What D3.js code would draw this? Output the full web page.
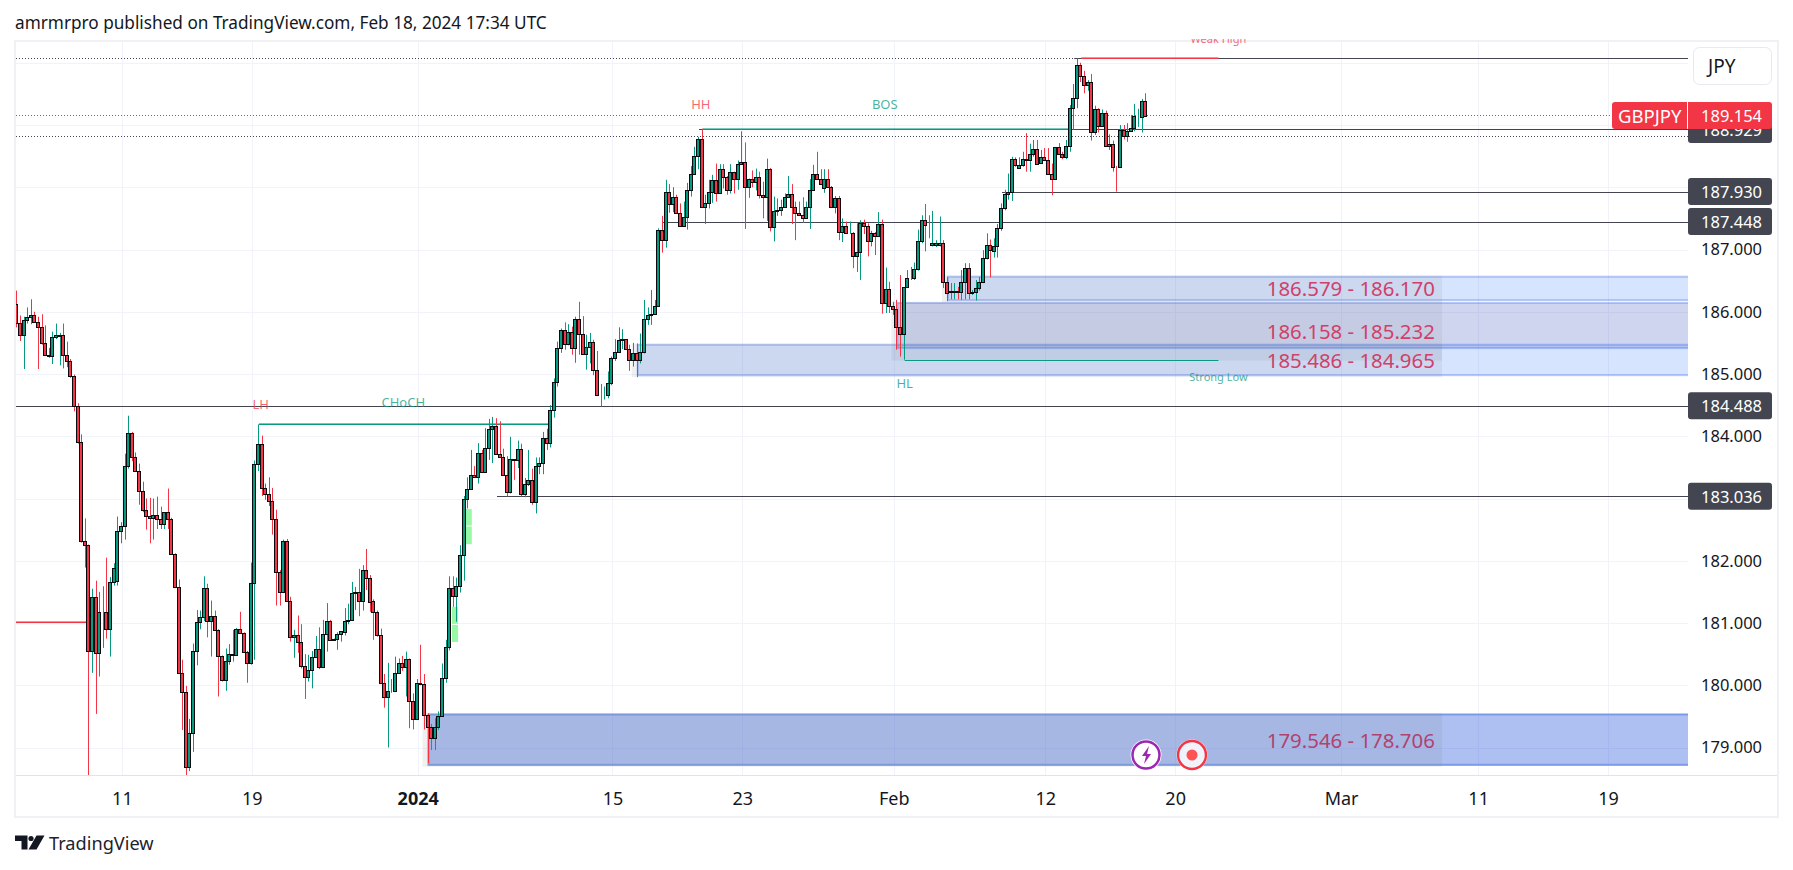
<!DOCTYPE html>
<html>
<head>
<meta charset="utf-8">
<title>GBPJPY</title>
<script src="https://cdn.jsdelivr.net/npm/d3@7"></script>
<style>
  body { margin: 0; background: #fff; }
  svg { display: block; }
  text { font-family: "Noto Sans", sans-serif; }
</style>
</head>
<body>
<div id="chart"></div>
<script>
// candles, oldest first (4h bars)
const opens = [
  186.13,185.82,185.63,185.87,185.92,185.95,185.84,185.76,185.50,185.31,
  185.29,185.60,185.61,185.63,185.31,185.21,184.96,184.49,183.91,182.32,
  182.25,180.55,181.42,180.52,181.17,181.18,180.90,181.66,181.67,182.48,
  182.56,183.52,184.05,183.67,183.44,183.12,182.82,182.72,182.68,182.73,
  182.67,182.59,182.78,182.67,182.11,181.58,180.20,179.89,178.68,179.23,
  180.55,181.02,181.10,181.56,181.03,181.11,180.89,180.47,180.09,180.39,
  180.50,180.49,180.90,180.84,180.54,180.35,181.65,183.56,183.88,183.17,
  183.07,182.96,182.67,181.82,181.49,182.32,181.35,180.78,180.80,180.69,
  180.31,180.14,180.24,180.46,180.58,180.29,180.82,181.04,180.72,180.75,
  180.83,180.86,181.03,181.05,181.48,181.50,181.36,181.85,181.73,181.35,
  181.17,180.80,180.04,179.81,179.90,179.91,180.19,180.35,180.29,180.42,
  179.74,179.45,180.03,180.02,179.52,179.33,179.16,179.33,179.50,180.11,
  180.62,181.57,181.44,181.60,182.09,182.99,183.16,183.38,183.34,183.73,
  183.42,183.81,184.11,184.16,183.71,183.66,183.38,183.10,183.63,183.62,
  183.79,183.08,183.23,183.29,182.94,183.53,183.57,183.97,183.89,184.42,
  184.87,185.41,185.70,185.48,185.68,185.41,185.88,185.65,185.32,185.44,
  185.52,185.07,184.67,184.66,184.67,184.85,185.25,185.36,185.55,185.56,
  185.40,185.22,185.33,185.22,185.36,185.89,185.94,185.97,186.09,187.31,
  187.15,187.92,187.73,187.85,187.59,187.38,187.53,187.96,188.22,188.51,
  188.77,187.69,187.74,187.93,188.12,187.90,188.30,188.16,187.95,188.24,
  188.14,188.38,188.40,188.00,188.14,188.08,188.16,187.87,187.84,188.30,
  187.36,187.62,187.63,187.69,187.85,187.89,187.69,187.59,187.56,187.50,
  187.69,187.96,188.22,188.14,187.99,188.13,188.01,187.68,187.82,187.28,
  187.38,187.26,187.27,186.89,186.96,187.42,187.38,187.14,187.26,187.21,
  187.41,186.14,186.36,186.10,186.04,185.76,185.65,186.39,186.54,186.54,
  186.68,187.13,187.48,187.40,187.07,187.07,187.07,187.11,186.48,186.32,
  186.31,186.34,186.31,186.47,186.71,186.30,186.31,186.38,186.48,186.86,
  187.08,186.98,187.05,187.34,187.66,187.89,187.93,188.46,188.31,188.36,
  188.45,188.43,188.53,188.61,188.39,188.49,188.43,188.21,188.13,188.64,
  188.53,188.49,188.66,189.27,189.43,189.97,189.79,189.64,189.69,188.88,
  189.25,188.99,189.19,188.67,188.69,188.33,188.32,188.92,188.83,188.90,
  188.95,189.14,189.13,189.39
];
const highs = [
  186.34,185.94,185.92,186.07,186.20,186.00,185.92,185.96,185.78,185.42,
  185.68,185.81,185.66,185.81,185.52,185.24,184.99,184.53,184.03,182.68,
  182.26,181.55,181.68,181.50,181.59,182.05,181.74,181.96,182.71,182.62,
  183.72,184.33,184.07,183.74,183.56,183.27,183.00,183.01,183.00,183.03,
  182.87,182.78,183.16,182.69,182.12,181.70,180.41,179.99,179.46,180.67,
  181.21,181.20,181.75,181.63,181.36,181.20,180.90,180.48,180.59,180.66,
  180.89,180.92,181.18,180.85,180.55,181.97,183.61,184.19,184.01,183.24,
  183.34,183.17,182.82,181.85,182.34,182.35,181.42,180.89,181.12,180.98,
  180.50,180.49,180.55,180.79,180.93,181.05,181.32,181.05,180.75,180.85,
  180.87,181.24,181.31,181.66,181.58,181.87,181.93,182.19,181.77,181.38,
  181.20,180.91,180.18,180.36,180.10,180.46,180.43,180.47,180.54,180.43,
  179.87,180.10,180.65,180.18,179.55,179.38,179.47,179.58,180.35,180.73,
  181.75,181.75,181.73,182.25,183.04,183.34,183.78,183.52,183.89,183.78,
  184.13,184.28,184.31,184.29,184.24,183.80,183.68,183.99,183.63,183.93,
  183.88,183.33,183.78,183.48,183.66,183.66,184.07,184.12,184.50,184.93,
  185.52,185.73,185.83,185.80,185.76,185.92,186.16,185.93,185.63,185.66,
  185.55,185.37,184.84,184.80,185.04,185.28,185.56,185.75,185.72,185.56,
  185.47,185.50,185.49,185.65,186.19,186.07,186.35,186.19,187.34,187.54,
  188.12,188.05,188.00,187.88,187.74,187.77,188.07,188.34,188.65,188.81,
  188.94,187.88,188.12,188.20,188.38,188.37,188.37,188.18,188.37,188.25,
  188.43,188.90,188.72,188.14,188.27,188.30,188.25,188.09,188.46,188.31,
  187.85,187.82,187.80,187.90,188.18,188.05,187.77,187.77,187.84,187.77,
  188.13,188.36,188.57,188.29,188.29,188.29,188.02,187.86,187.86,187.50,
  187.45,187.45,187.28,187.42,187.47,187.48,187.42,187.30,187.28,187.60,
  187.48,186.71,186.48,186.16,186.19,186.59,186.39,186.67,186.72,186.79,
  187.32,187.55,187.73,187.55,187.62,187.15,187.53,187.15,186.56,186.46,
  186.46,186.40,186.67,186.78,186.78,186.35,186.51,186.56,186.99,187.26,
  187.16,187.18,187.41,187.74,187.96,188.22,188.49,188.48,188.48,188.57,
  188.87,188.70,188.76,188.76,188.60,188.63,188.63,188.38,188.64,188.71,
  188.57,188.76,189.32,189.66,190.07,190.00,189.87,189.72,189.82,189.31,
  189.27,189.25,189.23,188.85,188.75,188.34,189.00,189.00,189.03,189.16,
  189.34,189.26,189.42,189.51
];
const lows = [
  185.75,185.53,185.08,185.81,185.80,185.82,185.08,185.47,185.29,185.26,
  185.16,185.56,185.14,185.09,185.11,184.94,184.40,183.88,182.29,181.89,
  178.55,180.20,179.54,180.14,180.60,180.75,180.46,181.60,181.60,182.28,
  182.34,183.48,183.60,183.43,182.90,182.78,182.50,182.28,182.34,182.51,
  182.51,182.51,182.51,182.10,181.56,180.18,179.28,178.55,178.62,178.93,
  180.32,180.90,181.03,180.77,180.46,180.88,179.82,180.06,179.91,180.33,
  180.38,180.49,180.84,180.53,180.04,180.33,180.41,183.44,183.04,182.98,
  182.88,182.42,181.28,181.28,181.48,181.35,180.70,180.44,180.52,180.27,
  179.78,180.06,179.95,180.46,180.26,180.29,180.54,180.72,180.71,180.57,
  180.70,180.80,180.98,181.04,181.21,181.11,181.20,181.53,181.18,180.73,
  180.78,180.02,179.64,179.00,179.88,179.90,180.18,180.23,179.82,179.31,
  179.29,179.44,180.00,179.29,178.75,178.96,178.96,179.28,179.49,180.04,
  180.56,181.26,181.02,181.49,181.68,182.84,183.15,183.33,183.24,183.42,
  183.41,183.62,183.57,183.70,183.66,183.38,183.03,183.08,183.30,183.49,
  183.03,183.02,183.20,182.90,182.76,183.39,183.39,183.78,183.82,184.30,
  184.80,185.34,185.39,185.46,185.31,185.18,185.31,185.31,185.07,185.17,
  184.98,184.66,184.48,184.59,184.61,184.82,185.21,185.36,185.40,185.40,
  185.05,185.12,184.95,185.17,185.33,185.79,185.79,185.96,186.08,186.95,
  187.03,187.59,187.60,187.59,187.37,187.37,187.32,187.85,188.20,188.29,
  187.69,187.41,187.66,187.75,187.77,187.89,187.98,187.88,187.90,187.90,
  187.96,188.36,187.33,187.83,188.00,187.95,187.82,187.50,187.46,187.29,
  187.13,187.54,187.54,187.68,187.84,187.41,187.15,187.54,187.43,187.49,
  187.33,187.95,188.14,188.05,187.91,188.00,187.68,187.58,187.15,187.12,
  187.25,187.25,186.70,186.64,186.51,187.25,186.89,187.05,186.91,187.20,
  185.97,185.98,185.98,185.95,185.39,185.28,185.23,186.38,186.51,186.51,
  186.66,187.10,186.97,187.18,187.05,187.04,187.05,186.38,186.17,186.20,
  186.20,186.20,186.19,186.20,186.20,186.27,186.18,186.34,186.46,186.84,
  186.55,186.87,186.87,187.30,187.63,187.80,187.78,188.33,188.30,188.33,
  188.25,188.25,188.49,188.38,188.38,188.42,188.20,187.87,188.12,188.52,
  188.45,188.45,188.57,188.92,189.27,189.69,189.51,189.55,188.75,188.84,
  188.88,188.97,188.67,188.60,188.25,187.93,188.31,188.77,188.73,188.89,
  188.90,188.97,188.88,189.15
];
const closes = [
  185.82,185.63,185.87,185.92,185.95,185.84,185.76,185.50,185.30,185.29,
  185.60,185.62,185.63,185.31,185.21,184.96,184.49,183.91,182.32,182.25,
  180.55,181.42,180.52,181.18,181.18,180.90,181.66,181.89,182.48,182.56,
  183.52,184.05,183.67,183.44,183.12,182.82,182.72,182.68,182.73,182.67,
  182.59,182.78,182.67,182.11,181.58,180.20,179.89,178.68,179.23,180.55,
  181.02,181.10,181.56,181.03,181.11,180.89,180.47,180.09,180.39,180.50,
  180.49,180.90,180.84,180.54,180.35,181.65,183.56,183.88,183.17,183.07,
  182.96,182.67,181.82,181.49,182.32,181.35,180.78,180.80,180.69,180.31,
  180.14,180.24,180.46,180.58,180.29,180.82,181.04,180.72,180.75,180.83,
  180.87,181.03,181.05,181.48,181.50,181.36,181.85,181.73,181.34,181.17,
  180.80,180.04,179.81,179.91,179.91,180.19,180.35,180.29,180.42,179.74,
  179.45,180.03,180.02,179.52,179.33,179.16,179.33,179.50,180.11,180.62,
  181.57,181.44,181.60,182.09,182.99,183.16,183.38,183.34,183.73,183.42,
  183.81,184.11,184.16,183.71,183.66,183.38,183.10,183.63,183.62,183.79,
  183.08,183.23,183.29,182.94,183.53,183.57,183.97,183.89,184.42,184.87,
  185.41,185.70,185.48,185.68,185.41,185.88,185.65,185.32,185.44,185.52,
  185.07,184.67,184.66,184.67,184.85,185.25,185.36,185.55,185.56,185.40,
  185.22,185.33,185.22,185.36,185.89,185.94,185.97,186.09,187.31,187.15,
  187.92,187.73,187.85,187.59,187.38,187.53,187.96,188.22,188.51,188.77,
  187.69,187.74,187.93,188.12,187.90,188.30,188.16,187.95,188.24,188.14,
  188.38,188.40,188.00,188.14,188.08,188.16,187.87,187.84,188.30,187.36,
  187.62,187.63,187.69,187.85,187.89,187.69,187.59,187.56,187.50,187.69,
  187.96,188.22,188.14,188.05,188.13,188.01,187.68,187.82,187.28,187.38,
  187.26,187.27,186.89,186.96,187.42,187.38,187.14,187.26,187.21,187.41,
  186.14,186.36,186.10,186.04,185.76,185.65,186.39,186.54,186.55,186.68,
  187.13,187.48,187.40,187.39,187.11,187.11,187.11,186.48,186.30,186.33,
  186.34,186.31,186.47,186.71,186.30,186.31,186.38,186.48,186.86,187.08,
  186.99,187.05,187.34,187.66,187.89,187.93,188.46,188.36,188.36,188.45,
  188.43,188.53,188.61,188.38,188.49,188.43,188.21,188.13,188.64,188.53,
  188.49,188.66,189.27,189.43,189.97,189.79,189.64,189.69,188.88,189.25,
  188.99,189.19,188.67,188.69,188.33,188.32,188.92,188.83,188.90,188.95,
  189.14,189.15,189.39,189.15
];

const priceTicks = [179, 180, 181, 182, 183, 184, 185, 186, 187];
const gridPrices = [179, 180, 181, 182, 183, 184, 185, 186, 187, 188, 189, 190];
const timeTicks = [29, 65, 111, 165, 201, 243, 285, 321, 367, 405, 441];
const timeLabels = ["11", "19", "2024", "15", "23", "Feb", "12", "20", "Mar", "11", "19"];

// horizontal levels with a price tag on the axis
const levelPrices = [188.929, 187.930, 187.448, 184.488, 183.036];
const levelStarts = [189, 273, 179, -1, 133];

// dotted lines across the pane
const dottedPrices = [190.07, 188.83];
const lastPrice = 189.154;

// supply / demand zones; the second box stops above its label range
const zoneTops = [186.579, 186.158, 185.486, 179.546];
const zoneBottoms = [186.170, 185.232, 184.965, 178.706];
const boxBottoms = [186.170, 185.400, 184.965, 178.706];
const zoneStarts = [258, 244, 172, 114];
const zoneLabels = ["186.579 - 186.170", "186.158 - 185.232", "185.486 - 184.965", "179.546 - 178.706"];

// market structure lines
const structurePrices = [184.19, 188.94, 185.23, 190.08, 181.02];
const structureStarts = [67, 190, 246, 295, -1];
const structureEnds = [148, 292, 333, 333, 20];
const structureColors = ["#089981", "#089981", "#089981", "#f23645", "#f23645"];
const structureGlow = [true, true, false, true, true];

// small fair value gap boxes
const gapStarts = [124.4, 124.4, 120.5, 120.5];
const gapEnds = [126, 126, 122.2, 122.2];
const gapTops = [182.83, 182.55, 181.26, 180.97];
const gapBottoms = [182.55, 182.25, 180.97, 180.68];

const notes = ["LH", "CHoCH", "HH", "BOS", "HL", "Strong Low", "Weak High"];
const noteIndex = [67.5, 107, 189.5, 240.5, 246, 333, 333];
const notePrices = [184.50, 184.52, 189.31, 189.31, 184.83, 184.94, 190.365];
const noteSizes = [13, 13, 13, 13, 13, 11, 11];
const noteColors = ["#f23645", "#089981", "#f23645", "#089981", "#089981", "#089981", "#f23645"];

const upColor = "#089981";
const downColor = "#f23645";
const levelColor = "#434651";
const paneLeft = 16, paneRight = 1688, paneTop = 42, paneBottom = 775;
const axisRight = 1772;

const svg = d3.select("#chart")
  .append("svg")
  .attr("width", 1793)
  .attr("height", 870);

const xScale = d3.scaleLinear().domain([0, 441]).range([17.3, 1608]);
const yScale = d3.scaleLinear().domain([187, 179]).range([249.5, 747.5]);

svg.append("clipPath").attr("id", "pane")
  .append("rect")
  .attr("x", paneLeft).attr("y", paneTop - 3)
  .attr("width", paneRight - paneLeft).attr("height", paneBottom - paneTop + 3);

svg.append("clipPath").attr("id", "paneStrict")
  .append("rect")
  .attr("x", paneLeft).attr("y", paneTop)
  .attr("width", paneRight - paneLeft).attr("height", paneBottom - paneTop);

// header and frame
svg.append("text")
  .text("amrmrpro published on TradingView.com, Feb 18, 2024 17:34 UTC")
  .attr("x", 15).attr("y", 29)
  .style("font-size", "17.2px")
  .attr("fill", "#131722");

svg.append("rect")
  .attr("x", 15).attr("y", 41)
  .attr("width", 1763).attr("height", 776)
  .attr("fill", "none")
  .attr("stroke", "#f0f0f5")
  .attr("stroke-width", 2);

// grid
const grid = svg.append("g").attr("clip-path", "url(#paneStrict)");

grid.selectAll(".h")
  .data(gridPrices)
  .join("line")
  .attr("x1", paneLeft).attr("x2", paneRight)
  .attr("y1", d => Math.round(yScale(d)) + 0.5)
  .attr("y2", d => Math.round(yScale(d)) + 0.5)
  .attr("stroke", "#f0f3fa");

grid.selectAll(".v")
  .data(timeTicks)
  .join("line")
  .attr("x1", d => Math.round(xScale(d)) + 0.5)
  .attr("x2", d => Math.round(xScale(d)) + 0.5)
  .attr("y1", paneTop).attr("y2", paneBottom)
  .attr("stroke", "#f0f3fa");

// zones, borders kept inside each box so that neighbours do not merge
const zones = svg.append("g").attr("clip-path", "url(#paneStrict)");

zoneTops.forEach((top, i) => {
  const strong = i === 3;
  const mid = i === 1;
  zones.append("rect")
    .attr("x", xScale(zoneStarts[i]))
    .attr("y", yScale(top) + 1)
    .attr("width", paneRight + 10 - xScale(zoneStarts[i]))
    .attr("height", yScale(boxBottoms[i]) - yScale(top) - 2)
    .attr("fill", strong ? "rgba(41,88,220,0.38)" : mid ? "rgba(60,80,190,0.24)" : "rgba(41,110,250,0.19)")
    .attr("stroke", strong ? "#7b9be8" : "rgba(60,110,240,0.35)")
    .attr("stroke-width", 2);
  // grey box behind the range text
  zones.append("rect")
    .attr("x", xScale(zoneStarts[i]) - 6)
    .attr("y", yScale(top))
    .attr("width", xScale(395) - xScale(zoneStarts[i]) + 6)
    .attr("height", yScale(zoneBottoms[i]) - yScale(top) + 1)
    .attr("fill", "rgba(120,135,134,0.12)");
});

// fair value gaps
svg.append("g")
  .selectAll("rect")
  .data(gapStarts)
  .join("rect")
  .attr("x", d => xScale(d))
  .attr("y", (d, i) => yScale(gapTops[i]))
  .attr("width", (d, i) => xScale(gapEnds[i]) - xScale(d))
  .attr("height", (d, i) => yScale(gapBottoms[i]) - yScale(gapTops[i]) - 1)
  .attr("fill", "#97f8a6");

// dotted lines
const lines = svg.append("g").attr("clip-path", "url(#paneStrict)");

lines.selectAll(".dot")
  .data(dottedPrices)
  .join("line")
  .attr("x1", paneLeft).attr("x2", paneRight)
  .attr("y1", d => Math.round(yScale(d)) + 0.5)
  .attr("y2", d => Math.round(yScale(d)) + 0.5)
  .attr("stroke", levelColor)
  .attr("stroke-dasharray", "1 2");

lines.append("line")
  .attr("x1", paneLeft).attr("x2", 1612)
  .attr("y1", Math.round(yScale(lastPrice)) + 0.5)
  .attr("y2", Math.round(yScale(lastPrice)) + 0.5)
  .attr("stroke", downColor)
  .attr("stroke-dasharray", "1 2");

// solid levels
lines.selectAll(".level")
  .data(levelPrices)
  .join("line")
  .attr("x1", (d, i) => xScale(levelStarts[i]))
  .attr("x2", paneRight)
  .attr("y1", d => Math.round(yScale(d)) + 0.5)
  .attr("y2", d => Math.round(yScale(d)) + 0.5)
  .attr("stroke", levelColor);

// the line under the weak high
lines.append("line")
  .attr("x1", xScale(293)).attr("x2", paneRight)
  .attr("y1", Math.round(yScale(190.08)) + 0.5)
  .attr("y2", Math.round(yScale(190.08)) + 0.5)
  .attr("stroke", levelColor);

// structure lines
structurePrices.forEach((p, i) => {
  const yy = Math.round(yScale(p)) + 0.5;
  if (structureGlow[i]) {
    lines.append("line")
      .attr("x1", xScale(structureStarts[i])).attr("x2", xScale(structureEnds[i]))
      .attr("y1", yy - 1).attr("y2", yy - 1)
      .attr("stroke", structureColors[i])
      .attr("stroke-opacity", 0.55);
  }
  lines.append("line")
    .attr("x1", xScale(structureStarts[i])).attr("x2", xScale(structureEnds[i]))
    .attr("y1", yy).attr("y2", yy)
    .attr("stroke", structureColors[i]);
});

// candles
const candles = svg.append("g").attr("clip-path", "url(#paneStrict)");

const candle = candles.selectAll("g")
  .data(closes)
  .join("g");

candle.append("line")
  .attr("x1", (d, i) => Math.round(xScale(i)) - 0.5)
  .attr("x2", (d, i) => Math.round(xScale(i)) - 0.5)
  .attr("y1", (d, i) => yScale(highs[i]))
  .attr("y2", (d, i) => yScale(lows[i]))
  .attr("stroke", (d, i) => d >= opens[i] ? upColor : downColor);

candle.append("rect")
  .attr("x", (d, i) => Math.round(xScale(i)) - 2.5)
  .attr("y", (d, i) => Math.round(yScale(Math.max(d, opens[i]))) + 0.5)
  .attr("width", 3)
  .attr("height", (d, i) => Math.max(0, Math.round(yScale(Math.min(d, opens[i]))) - Math.round(yScale(Math.max(d, opens[i])))))
  .attr("fill", (d, i) => d >= opens[i] ? upColor : downColor)
  .attr("stroke", "#0b0b0f")
  .attr("shape-rendering", "crispEdges");

// annotation texts, some of them cut by the top of the pane
svg.append("g")
  .attr("clip-path", "url(#pane)")
  .selectAll("text")
  .data(notes)
  .join("text")
  .text(d => d)
  .attr("x", (d, i) => xScale(noteIndex[i]))
  .attr("y", (d, i) => yScale(notePrices[i]))
  .attr("text-anchor", "middle")
  .attr("dominant-baseline", "middle")
  .attr("fill", (d, i) => noteColors[i])
  .attr("fill-opacity", 0.75)
  .style("font-size", (d, i) => `${noteSizes[i]}px`);

// zone range labels
svg.append("g")
  .selectAll("text")
  .data(zoneLabels)
  .join("text")
  .text(d => d)
  .attr("x", xScale(393))
  .attr("y", (d, i) => (yScale(zoneTops[i]) + yScale(zoneBottoms[i])) / 2)
  .attr("text-anchor", "end")
  .attr("dominant-baseline", "central")
  .attr("fill", (d, i) => i === 3 ? "#b0436f" : "#d0406a")
  .style("font-size", "20.4px");

// price axis
const yAxis = d3.axisRight(yScale)
  .tickValues(priceTicks)
  .tickFormat(d3.format(".3f"))
  .tickSize(0)
  .tickPadding(13);

svg.append("g")
  .attr("transform", `translate(${paneRight},0)`)
  .call(yAxis)
  .call(g => g.select(".domain").remove())
  .call(g => g.selectAll("text")
    .attr("fill", "#131722")
    .style("font-size", "16.5px")
    .style("font-family", "'Noto Sans', sans-serif"));

// time axis
const xAxis = d3.axisBottom(xScale)
  .tickValues(timeTicks)
  .tickFormat((d, i) => timeLabels[i])
  .tickSize(0)
  .tickPadding(17);

svg.append("g")
  .attr("transform", `translate(0,${paneBottom})`)
  .call(xAxis)
  .call(g => g.select(".domain").remove())
  .call(g => g.selectAll("text")
    .attr("fill", "#131722")
    .style("font-size", "18px")
    .style("font-weight", d => d === 111 ? "700" : "400")
    .style("font-family", "'Noto Sans', sans-serif"));

svg.append("line")
  .attr("x1", paneLeft).attr("x2", 1777)
  .attr("y1", paneBottom + 0.5).attr("y2", paneBottom + 0.5)
  .attr("stroke", "#e0e3eb");

// level tags
levelPrices.forEach(p => {
  svg.append("rect")
    .attr("x", paneRight).attr("y", yScale(p) - 13.5)
    .attr("width", axisRight - paneRight).attr("height", 27)
    .attr("rx", 3)
    .attr("fill", levelColor);
  svg.append("text")
    .text(d3.format(".3f")(p))
    .attr("x", paneRight + 13).attr("y", yScale(p))
    .attr("dominant-baseline", "central")
    .attr("fill", "#fff")
    .style("font-size", "16.5px");
});

// symbol and last price tag
svg.append("rect")
  .attr("x", 1612).attr("y", yScale(lastPrice) - 13.5)
  .attr("width", axisRight - 1612).attr("height", 27)
  .attr("rx", 3)
  .attr("fill", downColor);

svg.append("line")
  .attr("x1", paneRight - 0.5).attr("x2", paneRight - 0.5)
  .attr("y1", yScale(lastPrice) - 13.5).attr("y2", yScale(lastPrice) + 13.5)
  .attr("stroke", "#fff");

svg.append("text")
  .text("GBPJPY")
  .attr("x", 1618).attr("y", yScale(lastPrice))
  .attr("dominant-baseline", "central")
  .attr("fill", "#fff")
  .style("font-size", "18.5px");

svg.append("text")
  .text(d3.format(".3f")(lastPrice))
  .attr("x", paneRight + 13).attr("y", yScale(lastPrice))
  .attr("dominant-baseline", "central")
  .attr("fill", "#fff")
  .style("font-size", "16.5px");

// currency button
svg.append("rect")
  .attr("x", 1693.5).attr("y", 47.5)
  .attr("width", 78).attr("height", 37)
  .attr("rx", 6)
  .attr("fill", "#fff")
  .attr("stroke", "#e8e9f0");

svg.append("text")
  .text("JPY")
  .attr("x", 1708).attr("y", 65.5)
  .attr("dominant-baseline", "central")
  .attr("fill", "#131722")
  .style("font-size", "19px");

// flash and record buttons at the bottom of the pane
svg.append("circle")
  .attr("cx", 1146).attr("cy", 755).attr("r", 15.5)
  .attr("fill", "#fff");
svg.append("circle")
  .attr("cx", 1146).attr("cy", 755).attr("r", 13.5)
  .attr("fill", "#fff")
  .attr("stroke", "#9c27b0")
  .attr("stroke-width", 2.5);
svg.append("path")
  .attr("d", "M1149 746l-7 10h4l-2 8 7-10h-4z")
  .attr("fill", "#9c27b0");

svg.append("circle")
  .attr("cx", 1192).attr("cy", 755).attr("r", 15.5)
  .attr("fill", "#fff");
svg.append("circle")
  .attr("cx", 1192).attr("cy", 755).attr("r", 14)
  .attr("fill", "#f0f3fa")
  .attr("stroke", "#f23645")
  .attr("stroke-width", 2.5);
svg.append("circle")
  .attr("cx", 1192).attr("cy", 755).attr("r", 5.5)
  .attr("fill", "#ff5252");

// logo
svg.append("path")
  .attr("d", "M15 835.5h12.5v14h-6v-8.5h-6.500z M36.500 835.500h8l-8 14h-8z")
  .attr("fill", "#131722");
svg.append("circle")
  .attr("cx", 31).attr("cy", 838.5).attr("r", 2.6)
  .attr("fill", "#131722");
svg.append("text")
  .text("TradingView")
  .attr("x", 49).attr("y", 850)
  .attr("fill", "#1e222d")
  .style("font-size", "18.2px");
</script>
</body>
</html>
